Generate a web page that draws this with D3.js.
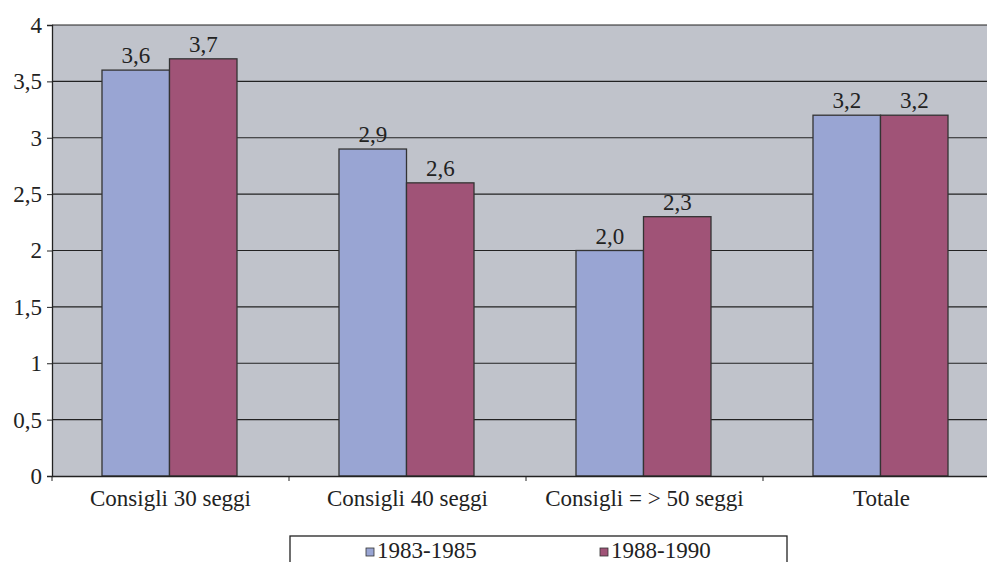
<!DOCTYPE html>
<html>
<head>
<meta charset="utf-8">
<script src="https://cdn.jsdelivr.net/npm/d3@7"></script>
<style>
  body { margin: 0; background: #fff; }
  svg { display: block; font-family: "Liberation Serif", "Times New Roman", serif; }
</style>
</head>
<body>
<svg id="chart" width="987" height="562"></svg>
<script>
// data
var categories = ['Consigli 30 seggi', 'Consigli 40 seggi', 'Consigli = > 50 seggi', 'Totale'];
var seriesNames = ['1983-1985', '1988-1990'];
var values8385 = [3.6, 2.9, 2.0, 3.2];
var values8890 = [3.7, 2.6, 2.3, 3.2];
var yTicks = [0, 0.5, 1, 1.5, 2, 2.5, 3, 3.5, 4];
var colors = ['#99a5d3', '#a05377'];

var margin = { top: 25, right: -13, bottom: 86, left: 52 };
var width = 987 - margin.left - margin.right;
var height = 562 - margin.top - margin.bottom;
var fontSize = 23;

var svg = d3.select('#chart');
var g = svg.append('g')
    .attr('transform', 'translate(' + margin.left + ',' + margin.top + ')');

var x = d3.scaleBand().domain(categories).range([0, width]).paddingInner(0).paddingOuter(0);
var xs = d3.scaleBand().domain(seriesNames).range([50, x.bandwidth() - 52]);
var y = d3.scaleLinear().domain([0, 4]).range([height, 0]);

var fmt = function (v) { return String(v).replace('.', ','); };

// plot background
g.append('rect')
    .attr('width', width)
    .attr('height', height)
    .attr('fill', '#c0c3cb');

// gridlines
g.selectAll('.grid')
    .data(yTicks.slice(1))
    .enter().append('line')
    .attr('class', 'grid')
    .attr('x1', 0).attr('x2', width)
    .attr('y1', function (d) { return y(d); })
    .attr('y2', function (d) { return y(d); })
    .attr('stroke', '#222')
    .attr('stroke-width', 1.2);

var rows = categories.map(function (c, i) {
    return { cat: c, vals: [values8385[i], values8890[i]] };
});

var groups = g.selectAll('.cat')
    .data(rows)
    .enter().append('g')
    .attr('class', 'cat')
    .attr('transform', function (d) { return 'translate(' + x(d.cat) + ',0)'; });

groups.selectAll('rect')
    .data(function (d) { return d.vals.map(function (v, j) { return { s: seriesNames[j], v: v, j: j }; }); })
    .enter().append('rect')
    .attr('x', function (d) { return xs(d.s); })
    .attr('y', function (d) { return y(d.v); })
    .attr('width', xs.bandwidth())
    .attr('height', function (d) { return height - y(d.v); })
    .attr('fill', function (d) { return colors[d.j]; })
    .attr('stroke', '#333')
    .attr('stroke-width', 1.3);

groups.selectAll('.val')
    .data(function (d) { return d.vals.map(function (v, j) { return { s: seriesNames[j], v: v }; }); })
    .enter().append('text')
    .attr('class', 'val')
    .attr('x', function (d) { return xs(d.s) + xs.bandwidth() / 2; })
    .attr('y', function (d) { return y(d.v) - 7; })
    .attr('text-anchor', 'middle')
    .attr('font-size', fontSize)
    .attr('fill', '#222')
    .text(function (d) { return d.v.toFixed(1).replace('.', ','); });

// axes
var yAxis = d3.axisLeft(y).tickValues(yTicks).tickSize(5).tickPadding(5).tickFormat(fmt);
var yG = g.append('g').call(yAxis).attr('font-family', null).attr('font-size', fontSize);
yG.select('.domain').attr('stroke', '#222').attr('stroke-width', 1.3);
yG.selectAll('line').attr('stroke', '#222');
yG.selectAll('text').attr('fill', '#222');

var xAxis = d3.axisBottom(x).tickSize(0).tickPadding(14);
var xG = g.append('g').attr('transform', 'translate(0,' + height + ')').call(xAxis)
    .attr('font-family', null).attr('font-size', fontSize);
xG.select('.domain').attr('stroke', '#222').attr('stroke-width', 1.3);
xG.selectAll('text').attr('fill', '#222');
// category separators
xG.selectAll('.sep')
    .data(categories)
    .enter().append('line')
    .attr('class', 'sep')
    .attr('x1', function (d) { return x(d); })
    .attr('x2', function (d) { return x(d); })
    .attr('y1', 0).attr('y2', 5)
    .attr('stroke', '#222');

// legend
var legend = svg.append('g').attr('transform', 'translate(290,536)');
legend.append('rect')
    .attr('width', 497).attr('height', 40)
    .attr('fill', '#fff').attr('stroke', '#222').attr('stroke-width', 1.3);
var items = legend.selectAll('.item')
    .data(seriesNames)
    .enter().append('g')
    .attr('class', 'item')
    .attr('transform', function (d, i) { return 'translate(' + (76 + i * 234) + ',0)'; });
items.append('rect')
    .attr('x', 0).attr('y', 12)
    .attr('width', 8).attr('height', 8)
    .attr('fill', function (d, i) { return colors[i]; })
    .attr('stroke', '#333').attr('stroke-width', 0.8);
items.append('text')
    .attr('x', 11).attr('y', 22)
    .attr('font-size', fontSize)
    .attr('fill', '#222')
    .text(function (d) { return d; });
</script>
</body>
</html>
